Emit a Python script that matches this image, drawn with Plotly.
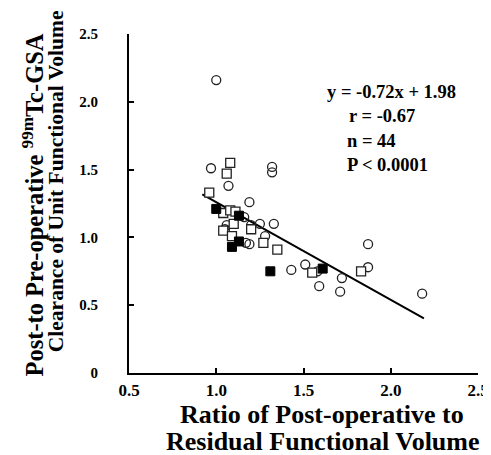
import plotly.graph_objects as go

# Data
open_circle_x = [1.00, 0.97, 1.32, 1.32, 1.07, 1.19, 1.16, 1.06, 1.05, 1.20, 1.25, 1.33,
                 1.28, 1.17, 1.19, 1.43, 1.51, 1.59, 1.58, 1.87, 1.87, 1.72, 1.71, 2.18]
open_circle_y = [2.16, 1.51, 1.52, 1.48, 1.38, 1.26, 1.15, 1.09, 1.06, 1.09, 1.10, 1.10,
                 1.01, 0.96, 0.95, 0.76, 0.80, 0.64, 0.75, 0.95, 0.78, 0.70, 0.60, 0.585]
open_square_x = [1.08, 1.06, 0.96, 1.04, 1.08, 1.11, 1.10, 1.04, 1.20, 1.09, 1.27, 1.35, 1.55, 1.83]
open_square_y = [1.55, 1.47, 1.33, 1.18, 1.20, 1.19, 1.10, 1.05, 1.06, 1.01, 0.96, 0.91, 0.74, 0.75]
filled_square_x = [1.00, 1.13, 1.13, 1.09, 1.31, 1.61]
filled_square_y = [1.21, 1.16, 0.97, 0.93, 0.75, 0.77]

slope = -0.72
intercept = 1.98
fit_x = [0.92, 2.19]
fit_y = [slope * v + intercept for v in fit_x]

x_ticks = [0.5, 1.0, 1.5, 2.0, 2.5]
x_tick_labels = ["0.5", "1.0", "1.5", "2.0", "2.5"]
y_ticks = [0, 0.5, 1.0, 1.5, 2.0, 2.5]
y_tick_labels = ["0", "0.5", "1.0", "1.5", "2.0", "2.5"]

stats = ["y = -0.72x + 1.98", "r = -0.67", "n = 44", "P < 0.0001"]

FONT = "Liberation Serif, Times New Roman, serif"

fig = go.Figure()
fig.add_trace(go.Scatter(x=fit_x, y=fit_y, mode="lines",
                         line=dict(color="black", width=2), showlegend=False))
fig.add_trace(go.Scatter(x=open_circle_x, y=open_circle_y, mode="markers",
                         marker=dict(symbol="circle-open", size=9, color="#222",
                                     line=dict(width=1.3)), showlegend=False))
fig.add_trace(go.Scatter(x=open_square_x, y=open_square_y, mode="markers",
                         marker=dict(symbol="square", size=9, color="white",
                                     line=dict(width=1.3, color="#222")), showlegend=False))
fig.add_trace(go.Scatter(x=filled_square_x, y=filled_square_y, mode="markers",
                         marker=dict(symbol="square", size=9, color="black",
                                     line=dict(width=1, color="black")), showlegend=False))

axis_common = dict(showgrid=False, zeroline=False, showline=True, linecolor="black",
                   linewidth=2, ticks="inside", ticklen=5, tickwidth=1.5, tickcolor="black",
                   automargin=False)
fig.update_xaxes(range=[0.5, 2.5], tickvals=x_ticks, ticktext=x_tick_labels,
                 ticklabelstandoff=1,
                 tickfont=dict(family=FONT, size=17, color="black", weight="bold"),
                 **axis_common)
fig.update_yaxes(range=[0, 2.5], tickvals=y_ticks, ticktext=y_tick_labels,
                 ticklabelstandoff=26,
                 tickfont=dict(family=FONT, size=15, color="black", weight="bold"),
                 **axis_common)

annotations = []
stat_x = [0.5616, 0.6246, 0.619, 0.619]
stat_y = [0.829, 0.758, 0.684, 0.614]
for s, xx, yy in zip(stats, stat_x, stat_y):
    annotations.append(dict(text=s, x=xx, y=yy, xref="paper", yref="paper",
                            showarrow=False, xanchor="left", yanchor="middle",
                            font=dict(family=FONT, size=18.5, color="black", weight="bold")))
annotations.append(dict(text="Post-to Pre-operative <sup>99m</sup>Tc-GSA", x=-0.276, y=0.496,
                        xref="paper", yref="paper", showarrow=False, textangle=-90,
                        xanchor="center", yanchor="middle",
                        font=dict(family=FONT, size=24.5, color="black", weight="bold")))
annotations.append(dict(text="Clearance of Unit Functional Volume", x=-0.209, y=0.566,
                        xref="paper", yref="paper", showarrow=False, textangle=-90,
                        xanchor="center", yanchor="middle",
                        font=dict(family=FONT, size=21.5, color="black", weight="bold")))
xt_font = dict(family=FONT, size=26, color="black", weight="bold")
annotations.append(dict(text="Ratio of Post-operative to", x=0.553, y=-0.121,
                        xref="paper", yref="paper", showarrow=False,
                        xanchor="center", yanchor="middle", font=xt_font))
annotations.append(dict(text="Residual Functional Volume", x=0.556, y=-0.2026,
                        xref="paper", yref="paper", showarrow=False,
                        xanchor="center", yanchor="middle", font=xt_font))

# page body adds an 8px offset; the figure is sized so the plot area lands where the reference has it
fig.update_layout(width=483, height=447, margin=dict(l=121, r=13, t=26, b=82),
                  paper_bgcolor="white", plot_bgcolor="white",
                  annotations=annotations)
fig.write_html("out.html")
